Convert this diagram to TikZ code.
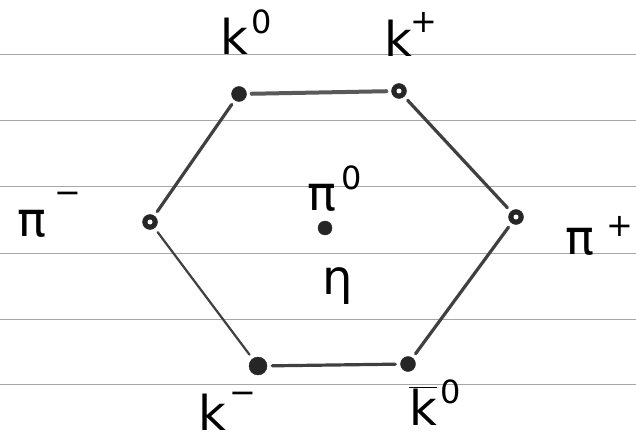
\documentclass[tikz,border=0pt]{standalone}
\usepackage{fontspec}
\setmainfont{DejaVu Sans}
\begin{document}
\begin{tikzpicture}[x=1pt,y=-1pt,
  rule/.style={gray!70,line width=0.9pt},
  dotfull/.style={circle,fill=black!85,draw=black!85,inner sep=0pt,minimum size=15pt},
  edge/.style={black!75,line width=3.2pt,line cap=round,shorten <=5pt,shorten >=5pt},
  lbl/.style={font=\fontsize{48}{54}\selectfont,inner sep=0pt},
  sp/.style={font=\fontsize{32}{36}\selectfont,inner sep=0pt}]
\useasboundingbox (0,0) rectangle (636,446);
\fill[white] (0,0) rectangle (636,446);
% ruled paper
\foreach \yy in {54,120,186,253,319,384} \draw[rule] (0,\yy) -- (636,\yy);
% points
\node[dotfull] (k0) at (239,94) {};
\node[dotfull] (kp) at (399,91) {};
\node[dotfull] (pim) at (150,222) {};
\node[dotfull] (pip) at (516,217) {};
\node[dotfull,minimum size=14pt] (pi0) at (325,228) {};
\node[dotfull,minimum size=18pt] (km) at (258,366) {};
\node[dotfull] (kb0) at (408,364) {};
\fill[white] (kp.center) circle (2.5);
\fill[white] (pim.center) circle (2.5);
\fill[white] (pip.center) circle (2.5);
% hexagon
\draw[edge,line width=4pt,black!65] (k0) -- (kp);
\draw[edge] (kp) -- (pip);
\draw[edge] (pip) -- (kb0);
\draw[edge] (kb0) -- (km);
\draw[edge,line width=2.2pt] (km) -- (pim);
\draw[edge] (pim) -- (k0);
% labels
\node[lbl] (lk0) at (234,36) {k};
\node[sp] (sk0) at (262,22) {0};
\node[lbl] (lkp) at (398,38) {k};
\node[sp] (skp) at (424,22) {+};
\node[lbl] (lpim) at (32,224) {π};
\node[sp] (spim) at (68,198) {−};
\node[lbl] (lpi0) at (322,198) {π};
\node[sp] (spi0) at (352,178) {0};
\node[lbl] (lpip) at (580,242) {π};
\node[sp] (spip) at (620,226) {+};
\node[lbl] (leta) at (338,286) {η};
\node[lbl] (lkm) at (212,412) {k};
\node[sp] (skm) at (243,398) {−};
\node[lbl] (lkb0) at (423,406) {$\overline{\hbox{k}}$};
\node[sp] (skb0) at (451,392) {0};
\end{tikzpicture}
\end{document}
